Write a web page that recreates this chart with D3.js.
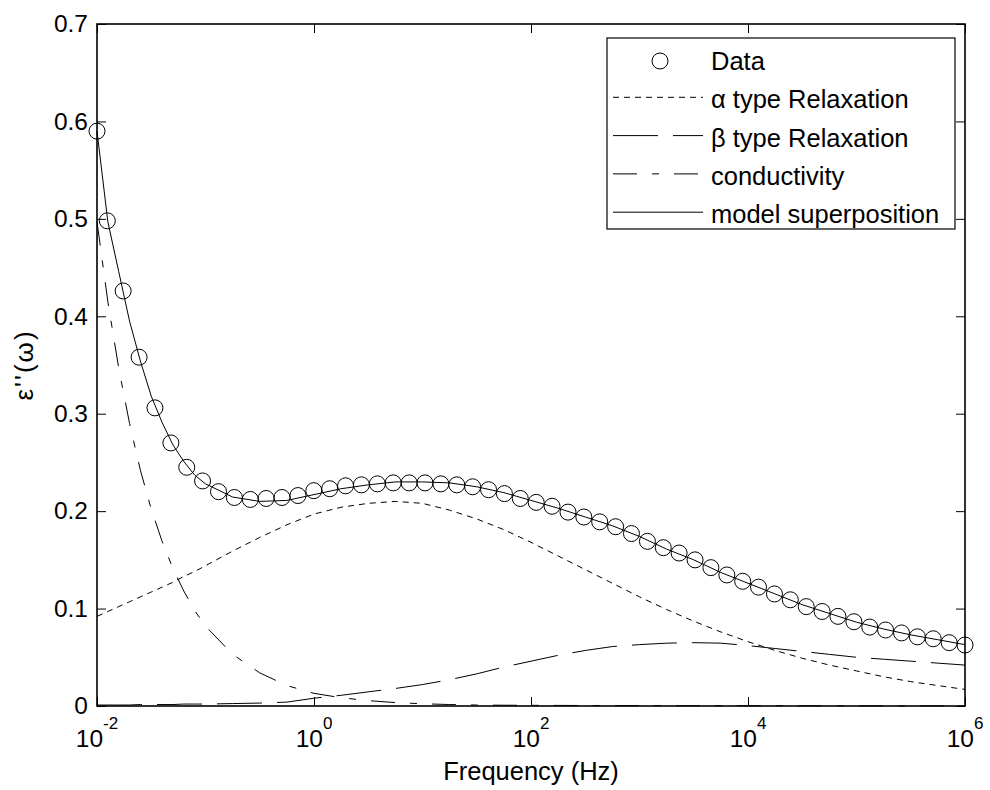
<!DOCTYPE html>
<html>
<head>
<meta charset="utf-8">
<script src="https://cdn.jsdelivr.net/npm/d3@7"></script>
<style>
  body { margin: 0; background: #fff; }
  text { font-family: "Liberation Sans", Arial, sans-serif; fill: #000; }
</style>
</head>
<body>
<svg width="990" height="790"></svg>
<script>
// measured points: log10 of frequency (Hz) and eps''
var dataLogF = [-2, -1.905, -1.759, -1.612, -1.466, -1.319, -1.173, -1.027, -0.880, -0.734,
  -0.587, -0.441, -0.295, -0.148, -0.002, 0.145, 0.291, 0.437, 0.584, 0.730,
  0.877, 1.023, 1.169, 1.316, 1.462, 1.609, 1.755, 1.901, 2.048, 2.194,
  2.341, 2.487, 2.633, 2.780, 2.926, 3.073, 3.219, 3.365, 3.512, 3.658,
  3.805, 3.951, 4.097, 4.244, 4.390, 4.537, 4.683, 4.829, 4.976, 5.122,
  5.268, 5.415, 5.561, 5.707, 5.854, 6.000]
var dataEps = [0.590, 0.498, 0.426, 0.358, 0.306, 0.270, 0.245, 0.231, 0.220, 0.214,
  0.212, 0.213, 0.214, 0.216, 0.221, 0.223, 0.226, 0.227, 0.228, 0.229,
  0.229, 0.229, 0.228, 0.227, 0.225, 0.222, 0.218, 0.213, 0.209, 0.205,
  0.199, 0.194, 0.189, 0.184, 0.177, 0.169, 0.1625, 0.157, 0.150, 0.142,
  0.1345, 0.128, 0.122, 0.115, 0.109, 0.102, 0.097, 0.092, 0.0865, 0.081,
  0.078, 0.075, 0.071, 0.069, 0.065, 0.0626]

// fitted curves, log10 of frequency
var curveLogF = [-2, -1.9, -1.8, -1.7, -1.6, -1.5, -1.4, -1.3, -1.2, -1.1, -1.0,
  -0.75, -0.5, -0.25, 0, 0.25, 0.5, 0.75, 1.0, 1.25, 1.5, 1.75, 2.0, 2.25, 2.5, 2.75,
  3.0, 3.25, 3.5, 3.75, 4.0, 4.25, 4.5, 4.75, 5.0, 5.25, 5.5, 5.75, 6.0]
var alphaEps = [0.092, 0.097, 0.102, 0.107, 0.112, 0.117, 0.122, 0.127, 0.133, 0.138, 0.144,
  0.159, 0.173, 0.186, 0.197, 0.204, 0.208, 0.210, 0.208, 0.201, 0.192, 0.181, 0.168, 0.154, 0.140, 0.126,
  0.112, 0.099, 0.087, 0.076, 0.066, 0.057, 0.049, 0.042, 0.036, 0.030, 0.025, 0.021, 0.017]
var betaEps = [0.001, 0.001, 0.001, 0.001, 0.0015, 0.0015, 0.0015, 0.0015, 0.002, 0.002, 0.002,
  0.0025, 0.003, 0.004, 0.008, 0.011, 0.0145, 0.018, 0.022, 0.027, 0.033, 0.040, 0.046, 0.052, 0.057, 0.061,
  0.063, 0.0645, 0.065, 0.0645, 0.062, 0.059, 0.056, 0.053, 0.050, 0.048, 0.046, 0.044, 0.042]
var condEps = [0.497, 0.415, 0.347, 0.290, 0.242, 0.202, 0.169, 0.141, 0.118, 0.098, 0.082,
  0.053, 0.034, 0.021, 0.013, 0.0085, 0.0055, 0.0035, 0.0023, 0.0015, 0.0010, 0.0008, 0.0007, 0.0006, 0.0005, 0.0004,
  0.0004, 0.0003, 0.0003, 0.0003, 0.0002, 0.0002, 0.0002, 0.0002, 0.0001, 0.0001, 0.0001, 0.0001, 0.0001]
var modelEps = [0.590, 0.497, 0.446, 0.395, 0.354, 0.318, 0.291, 0.268, 0.251, 0.237, 0.228,
  0.2145, 0.210, 0.211, 0.217, 0.223, 0.227, 0.230, 0.230, 0.229, 0.225, 0.219, 0.211, 0.203, 0.194, 0.185,
  0.174, 0.161, 0.150, 0.137, 0.126, 0.115, 0.104, 0.095, 0.086, 0.079, 0.073, 0.068, 0.063]

var xTickExps = [-2, 0, 2, 4, 6]
var yTicks = [0, 0.1, 0.2, 0.3, 0.4, 0.5, 0.6, 0.7]
var legendLabels = ["Data", "\u03b1 type Relaxation", "\u03b2 type Relaxation", "conductivity", "model superposition"]

var svg = d3.select("svg"),
    width = +svg.attr("width"),
    height = +svg.attr("height");

var x0 = 97, x1 = 965, y0 = 706, y1 = 24

var x = d3.scaleLog().domain([1e-2, 1e6]).range([x0, x1])
var y = d3.scaleLinear().domain([0, 0.7]).range([y0, y1])

// ticks inside the box, on all four sides
svg.append("g")
  .attr("transform", "translate(0," + y0 + ")")
  .call(d3.axisBottom(x).tickValues(xTickExps.map(function(e){ return Math.pow(10, e) }))
    .tickSizeInner(-9).tickSizeOuter(0).tickFormat(""))
svg.append("g")
  .attr("transform", "translate(0," + y1 + ")")
  .call(d3.axisTop(x).tickValues(xTickExps.map(function(e){ return Math.pow(10, e) }))
    .tickSizeInner(-9).tickSizeOuter(0).tickFormat(""))
svg.append("g")
  .attr("transform", "translate(" + x0 + ",0)")
  .call(d3.axisLeft(y).tickValues(yTicks).tickSizeInner(-9).tickSizeOuter(0).tickPadding(9)
    .tickFormat(function(d){ return d === 0 ? "0" : d3.format(".1f")(d) }))
svg.append("g")
  .attr("transform", "translate(" + x1 + ",0)")
  .call(d3.axisRight(y).tickValues(yTicks).tickSizeInner(-9).tickSizeOuter(0).tickFormat(""))

svg.selectAll(".domain").remove()
svg.selectAll(".tick line").attr("stroke", "#000").attr("stroke-width", 1)
svg.selectAll(".tick text")
  .style("font-size", "24.5px")
  .style("font-family", "'Liberation Sans', Arial, sans-serif")
  .attr("fill", "#000")

// x tick labels as 10^n
var xl = svg.selectAll("xlab")
  .data(xTickExps)
  .enter()
  .append("text")
    .attr("x", function(d){ return x(Math.pow(10, d)) })
    .attr("y", 747)
    .attr("text-anchor", "middle")
    .style("font-size", "24.5px")
xl.append("tspan").text("10")
xl.append("tspan")
  .attr("dy", -18)
  .style("font-size", "17px")
  .text(function(d){ return d < 0 ? "-" + (-d) : d })

// curves
function curveLine(vals) {
  return d3.line()
    .x(function(d, i){ return x(Math.pow(10, curveLogF[i])) })
    .y(function(d){ return y(d) })(vals)
}

var curves = [
  {vals: alphaEps, dash: "6,5"},
  {vals: betaEps, dash: "45,15"},
  {vals: condEps, dash: "24,15,7,15"},
  {vals: modelEps, dash: null}
]

svg.selectAll("curves")
  .data(curves)
  .enter()
  .append("path")
    .attr("d", function(d){ return curveLine(d.vals) })
    .attr("fill", "none")
    .attr("stroke", "#000")
    .attr("stroke-width", 1)
    .attr("stroke-dasharray", function(d){ return d.dash })

// data circles
svg.selectAll("pts")
  .data(dataEps)
  .enter()
  .append("circle")
    .attr("cx", function(d, i){ return x(Math.pow(10, dataLogF[i])) })
    .attr("cy", function(d){ return y(d) })
    .attr("r", 8)
    .attr("fill", "none")
    .attr("stroke", "#000")
    .attr("stroke-width", 1)

// axes box
svg.append("rect")
  .attr("x", x0).attr("y", y1)
  .attr("width", x1 - x0).attr("height", y0 - y1)
  .attr("fill", "none")
  .attr("stroke", "#000")
  .attr("stroke-width", 1.6)

// axis labels
svg.append("text")
  .attr("x", (x0 + x1) / 2)
  .attr("y", 780)
  .attr("text-anchor", "middle")
  .style("font-size", "25.5px")
  .text("Frequency (Hz)")

svg.append("text")
  .attr("transform", "translate(33," + (y0 + y1) / 2 + ") rotate(-90)")
  .attr("text-anchor", "middle")
  .style("font-size", "26px")
  .style("letter-spacing", "2px")
  .text("\u03b5''(\u03c9)")

// legend
var lg = svg.append("g")
lg.append("rect")
  .attr("x", 607).attr("y", 38)
  .attr("width", 348).attr("height", 191)
  .attr("fill", "#fff")
  .attr("stroke", "#000")
  .attr("stroke-width", 1.2)

var rowY = function(i){ return 61 + i * 38.3 }
var legendDash = [null, "6,5", "45,15", "24,15,7,15", null]

lg.selectAll("lglines")
  .data(legendLabels.slice(1))
  .enter()
  .append("line")
    .attr("x1", 613).attr("x2", 703)
    .attr("y1", function(d, i){ return rowY(i + 1) - 2 })
    .attr("y2", function(d, i){ return rowY(i + 1) - 2 })
    .attr("stroke", "#000")
    .attr("stroke-width", 1)
    .attr("stroke-dasharray", function(d, i){ return legendDash[i + 1] })

lg.append("circle")
  .attr("cx", 660).attr("cy", rowY(0))
  .attr("r", 8)
  .attr("fill", "none")
  .attr("stroke", "#000")

lg.selectAll("lgtext")
  .data(legendLabels)
  .enter()
  .append("text")
    .attr("x", 711)
    .attr("y", function(d, i){ return rowY(i) + 9 })
    .style("font-size", "25.5px")
    .text(function(d){ return d })
</script>
</body>
</html>
